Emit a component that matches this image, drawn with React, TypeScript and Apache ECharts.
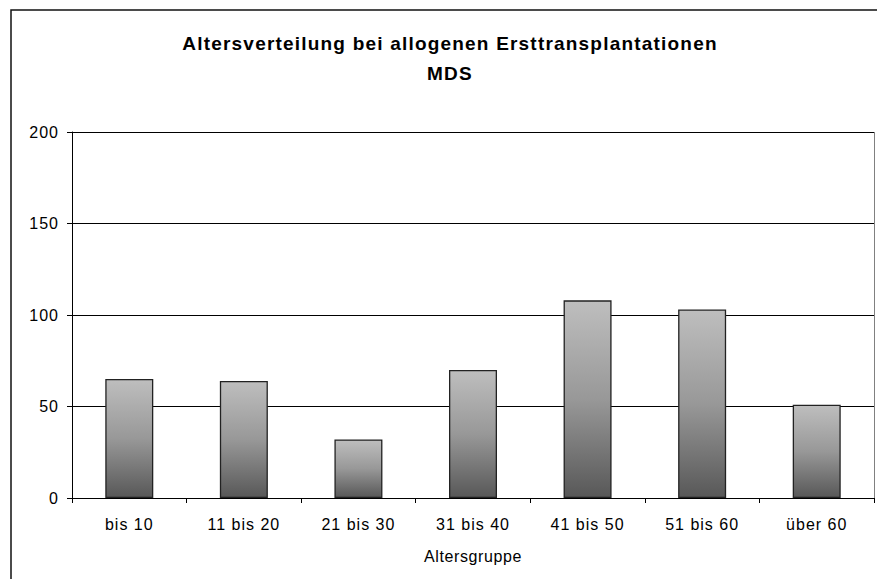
import React, { useEffect, useRef } from "react";
import * as echarts from "echarts";

const categories = ["bis 10", "11 bis 20", "21 bis 30", "31 bis 40", "41 bis 50", "51 bis 60", "über 60"];
const counts = [65, 64, 32, 70, 108, 103, 51];
const yTicks = { min: 0, max: 200, interval: 50 };

const FONT = "'Liberation Sans', Arial, sans-serif";
const TITLE = "Altersverteilung bei allogenen Ersttransplantationen";
const SUBTITLE = "MDS";

// Old-style chart text is set a little looser than the font's default advance.
function loosenText(root: HTMLElement) {
  root.querySelectorAll("text").forEach((t) => {
    const s = t.textContent || "";
    const spacing = s === TITLE || s === SUBTITLE ? "1.2px" : s === "Altersgruppe" ? "0.6px" : "1px";
    t.setAttribute("letter-spacing", spacing);
  });
}

export default function App() {
  const ref = useRef<HTMLDivElement>(null);

  useEffect(() => {
    const el = ref.current;
    if (!el) return;
    const chart = echarts.init(el, null, { renderer: "svg" });
    chart.on("finished", () => loosenText(el));
    chart.setOption({
      animation: false,
      backgroundColor: "#ffffff",
      title: {
        text: TITLE + "\n" + SUBTITLE,
        left: 445,
        textAlign: "center",
        top: 23,
        textStyle: {
          fontFamily: FONT,
          fontSize: 19,
          fontWeight: "bold",
          color: "#000",
          lineHeight: 30,
        },
      },
      graphic: [
        {
          type: "rect",
          shape: { x: 11, y: 10, width: 900, height: 600 },
          style: { fill: "none", stroke: "#111", lineWidth: 1.5 },
          silent: true,
        },
        {
          type: "line",
          shape: { x1: 874.5, y1: 132, x2: 874.5, y2: 498 },
          style: { stroke: "#808080", lineWidth: 1 },
          silent: true,
        },
      ],
      grid: { left: 72, top: 132, right: 3, bottom: 81, containLabel: false },
      xAxis: {
        type: "category",
        data: categories,
        name: "Altersgruppe",
        nameLocation: "middle",
        nameGap: 50,
        nameTextStyle: { fontFamily: FONT, fontSize: 16, color: "#000" },
        axisLine: { lineStyle: { color: "#000", width: 1 } },
        axisTick: { show: true, length: 5, alignWithLabel: false, lineStyle: { color: "#000" } },
        axisLabel: { fontFamily: FONT, fontSize: 16, color: "#000", margin: 18 },
      },
      yAxis: {
        type: "value",
        min: yTicks.min,
        max: yTicks.max,
        interval: yTicks.interval,
        axisLine: { show: true, lineStyle: { color: "#000", width: 1 } },
        axisTick: { show: true, length: 5, lineStyle: { color: "#000" } },
        axisLabel: { fontFamily: FONT, fontSize: 16, color: "#000", margin: 13 },
        splitLine: { show: true, lineStyle: { color: "#000", width: 1 } },
      },
      series: [
        {
          type: "bar",
          data: counts,
          barWidth: 48,
          itemStyle: {
            borderColor: "#222",
            borderWidth: 1.3,
            color: new echarts.graphic.LinearGradient(0, 0, 0, 1, [
              { offset: 0, color: "#bebebe" },
              { offset: 0.5, color: "#989898" },
              { offset: 1, color: "#585858" },
            ]),
          },
        },
      ],
    });
    loosenText(el);
    return () => chart.dispose();
  }, []);

  return (
    <div
      ref={ref}
      style={{ position: "fixed", left: 0, top: 0, width: 877, height: 579, background: "#fff" }}
    />
  );
}
